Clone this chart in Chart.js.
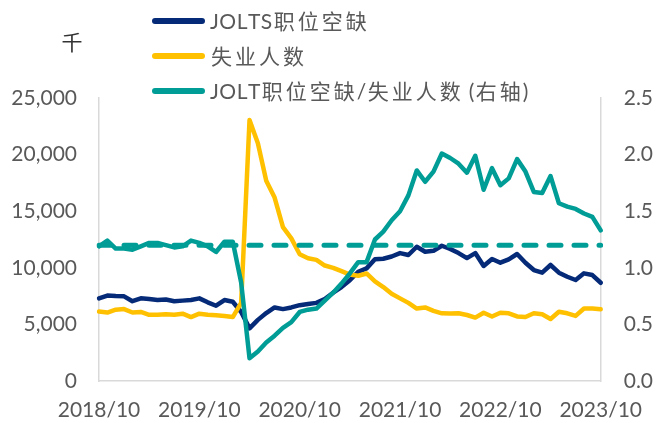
<!DOCTYPE html>
<html>
<head>
<meta charset="utf-8">
<script src="https://cdn.jsdelivr.net/npm/chart.js"></script>
<style>
  html, body { margin: 0; padding: 0; background: #fff; }
  #wrap { width: 659px; height: 423px; }
</style>
</head>
<body>
<div id="wrap"><canvas id="chart" width="659" height="423"></canvas></div>
<script>
// monthly, 2018/10 - 2023/10
const months = [
  "2018/10", "2018/11", "2018/12",
  "2019/01", "2019/02", "2019/03", "2019/04", "2019/05", "2019/06", "2019/07", "2019/08", "2019/09", "2019/10", "2019/11", "2019/12",
  "2020/01", "2020/02", "2020/03", "2020/04", "2020/05", "2020/06", "2020/07", "2020/08", "2020/09", "2020/10", "2020/11", "2020/12",
  "2021/01", "2021/02", "2021/03", "2021/04", "2021/05", "2021/06", "2021/07", "2021/08", "2021/09", "2021/10", "2021/11", "2021/12",
  "2022/01", "2022/02", "2022/03", "2022/04", "2022/05", "2022/06", "2022/07", "2022/08", "2022/09", "2022/10", "2022/11", "2022/12",
  "2023/01", "2023/02", "2023/03", "2023/04", "2023/05", "2023/06", "2023/07", "2023/08", "2023/09", "2023/10"
];

// thousands
const jobOpenings = [
  7300, 7550, 7500,
  7480, 7050, 7300, 7250, 7150, 7200, 7050, 7100, 7150, 7300, 6950, 6650,
  7150, 7000, 6100, 4650, 5400, 6000, 6500, 6350, 6500, 6700, 6800, 6900,
  7250, 7800, 8300, 8900, 9650, 9950, 10750, 10800, 11000, 11300, 11130, 11860,
  11420, 11500, 11950, 11660, 11300, 10860, 11300, 10160, 10780, 10450, 10750, 11220,
  10450, 9800, 9570, 10250, 9570, 9210, 8920, 9510, 9360, 8680
];

const unemployed = [
  6130, 6050, 6300,
  6350, 6050, 6100, 5850, 5850, 5900, 5850, 5950, 5650, 5950, 5850, 5800,
  5750, 5650, 6900, 23050, 21000, 17700, 16200, 13600, 12600, 11200, 10850, 10700,
  10200, 10000, 9700, 9400, 9300, 9500, 8800, 8300, 7700, 7300, 6900, 6400,
  6500, 6200, 5980, 5970, 5980, 5830, 5600, 6030, 5700, 6030, 5980, 5700,
  5650, 5980, 5900, 5480, 6120, 5980, 5750, 6400, 6400, 6330
];

// right axis
const openingsPerUnemployed = [
  1.19, 1.24, 1.17,
  1.17, 1.16, 1.19, 1.22, 1.22, 1.20, 1.18, 1.19, 1.24, 1.22, 1.19, 1.14,
  1.23, 1.23, 0.87, 0.20, 0.26, 0.34, 0.40, 0.47, 0.52, 0.61, 0.63, 0.64,
  0.71, 0.78, 0.86, 0.95, 1.05, 1.05, 1.25, 1.32, 1.42, 1.50, 1.64, 1.86,
  1.76, 1.85, 2.01, 1.97, 1.92, 1.84, 1.99, 1.69, 1.88, 1.73, 1.79, 1.96,
  1.85, 1.67, 1.66, 1.81, 1.57, 1.54, 1.52, 1.48, 1.45, 1.33
];

// pre-pandemic level, dashed
const avgStart = "2018/10";
const avgEnd = "2023/10";
const avgRatio = 1.2;

const NAVY = "#052A78";
const GOLD = "#FFC000";
const TEAL = "#009C96";
const GREY = "#595959";

Chart.defaults.font.family = "Lato, 'Noto Sans CJK SC', sans-serif";

// stacked legend + unit label, drawn like the Excel original
const stackedLegend = {
  id: "stackedLegend",
  afterDraw(chart) {
    const ctx = chart.ctx;
    ctx.save();
    ctx.textBaseline = "middle";
    chart.data.datasets.forEach((ds, i) => {
      if (!ds.showInLegend) return;
      const y = 21 + i * 35;
      ctx.strokeStyle = ds.borderColor;
      ctx.lineWidth = 6;
      ctx.lineCap = "round";
      ctx.beginPath();
      ctx.moveTo(155, y);
      ctx.lineTo(202, y);
      ctx.stroke();

      ctx.fillStyle = GREY;
      ctx.font = "21px Lato, 'Noto Sans CJK SC'";
      let x = 210;
      for (const ch of ds.label) {
        if (/[\u3400-\u9fff]/.test(ch)) {
          ctx.fillText(ch, x + 1, y + 1);
          x += 24;
        } else {
          ctx.fillText(ch, x, y + 1);
          x += ctx.measureText(ch).width + 0.5;
        }
      }
    });
    ctx.fillStyle = "#333333";
    ctx.font = "21px 'Noto Sans CJK SC'";
    ctx.textAlign = "center";
    ctx.fillText("千", 72, 42);
    ctx.restore();
  }
};

new Chart(document.getElementById("chart"), {
  type: "line",
  data: {
    labels: months,
    datasets: [
      {
        label: "JOLTS职位空缺",
        data: jobOpenings,
        yAxisID: "y",
        borderColor: NAVY,
        borderWidth: 4.5,
        order: 4,
        showInLegend: true,
      },
      {
        label: "失业人数",
        data: unemployed,
        yAxisID: "y",
        borderColor: GOLD,
        borderWidth: 4.5,
        order: 3,
        showInLegend: true,
      },
      {
        label: "JOLT职位空缺/失业人数 (右轴)",
        data: openingsPerUnemployed,
        yAxisID: "y1",
        borderColor: TEAL,
        borderWidth: 4.5,
        order: 2,
        showInLegend: true,
      },
      {
        label: "",
        data: [{ x: avgStart, y: avgRatio }, { x: avgEnd, y: avgRatio }],
        yAxisID: "y1",
        borderColor: TEAL,
        borderWidth: 5,
        borderDash: [12, 13],
        order: 1,
        showInLegend: false,
      },
    ],
  },
  options: {
    responsive: false,
    devicePixelRatio: 1,
    animation: false,
    layout: { padding: { top: 98, left: 0, right: 0, bottom: 0 } },
    elements: {
      point: { radius: 0, hoverRadius: 0 },
      line: { tension: 0, borderCapStyle: "round", borderJoinStyle: "round", fill: false },
    },
    plugins: {
      legend: { display: false },
      tooltip: { enabled: false },
    },
    scales: {
      x: {
        type: "category",
        offset: false,
        grid: { drawOnChartArea: false, drawTicks: false },
        border: { color: "#D9D9D9", width: 1.5 },
        ticks: {
          autoSkip: false,
          maxRotation: 0,
          padding: 17,
          color: GREY,
          font: { size: 21 },
          callback(value, index) {
            return index % 12 === 0 ? this.getLabelForValue(value) : null;
          },
        },
        afterFit(scale) { scale.height = 42; },
      },
      y: {
        position: "left",
        min: 0,
        max: 25000,
        grid: { drawOnChartArea: false, drawTicks: false },
        border: { color: "#D9D9D9", width: 1.5 },
        ticks: {
          stepSize: 5000,
          padding: 22,
          color: GREY,
          font: { size: 21 },
          callback: (v) => v.toLocaleString("en-US"),
        },
        afterFit(scale) { scale.width = 99; },
      },
      y1: {
        position: "right",
        min: 0,
        max: 2.5,
        grid: { drawOnChartArea: false, drawTicks: false },
        border: { color: "#D9D9D9", width: 1.5 },
        ticks: {
          stepSize: 0.5,
          padding: 23,
          color: GREY,
          font: { size: 21 },
          callback: (v) => v.toFixed(1),
        },
        afterFit(scale) { scale.width = 55; },
      },
    },
  },
  plugins: [stackedLegend],
});
</script>
</body>
</html>
